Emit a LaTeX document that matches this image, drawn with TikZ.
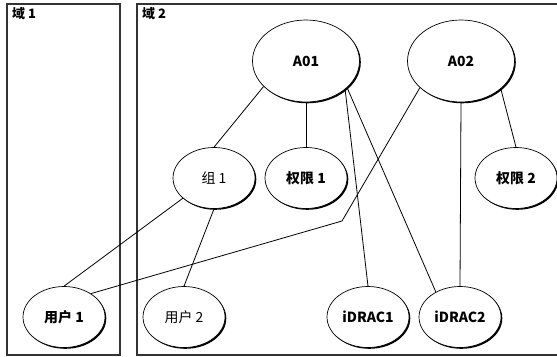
\documentclass[tikz,border=0pt]{standalone}
\usepackage{fontspec}
\setmainfont{Noto Sans CJK SC}
\usetikzlibrary{shapes.geometric,shadows}
\definecolor{frame}{HTML}{333333}
\tikzset{
  dombox/.style={draw=frame,line width=1.3bp},
  dlbl/.style={anchor=north west,inner sep=0pt,
               font=\fontsize{13}{15}\selectfont\bfseries},
  ent/.style={ellipse,draw=black,fill=white,line width=0.7bp,
              minimum width=82bp,minimum height=61bp,inner sep=0pt,
              font=\fontsize{14}{16}\selectfont\bfseries,
              drop shadow={shadow xshift=1.3bp,shadow yshift=-1.3bp,
                           fill=black,opacity=1}},
  aobj/.style={minimum width=107bp,minimum height=82bp},
  reg/.style={font=\fontsize{14}{16}\selectfont},
  lnk/.style={line width=0.8bp},
}

\begin{document}
\begin{tikzpicture}[x=1bp,y=-1bp]
  \useasboundingbox (0,0) rectangle (557,356);

  % domains
  \draw[dombox] (7,4) rectangle (120,355);
  \draw[dombox] (557,4) -- (137,4) -- (137,355) -- (557,355);
  \node[dlbl] (d1) at (12,7) {域 1};
  \node[dlbl] (d2) at (142,7) {域 2};

  % objects
  \node[ent,aobj] (a01) at (306,61) {A01};
  \node[ent,aobj] (a02) at (461,61) {A02};
  \node[ent,reg]  (g1)  at (214,178) {组 1};
  \node[ent]      (q1)  at (306,178) {权限 1};
  \node[ent]      (q2)  at (516,178) {权限 2};
  \node[ent]      (u1)  at (64,317)  {用户 1};
  \node[ent,reg]  (u2)  at (184,317) {用户 2};
  \node[ent]      (r1)  at (368,317) {iDRAC1};
  \node[ent]      (r2)  at (460,317) {iDRAC2};

  \coordinate (bend) at (342,221);

  % links
  \draw[lnk] (a01.211) -- (g1.north);
  \draw[lnk] (a01.south) -- (q1.north);
  \draw[lnk] (a01.-36) -- (r1.north);
  \draw[lnk] (a01.-33) -- (r2.134);
  \draw[lnk] (a02.213) -- (bend) -- (u1.41);
  \draw[lnk] (a02.south) -- (r2.north);
  \draw[lnk] (a02.-35) -- (q2.north);
  \draw[lnk] (g1.213) -- (u1.north);
  \draw[lnk] (g1.south) -- (u2.north);
\end{tikzpicture}
\end{document}
